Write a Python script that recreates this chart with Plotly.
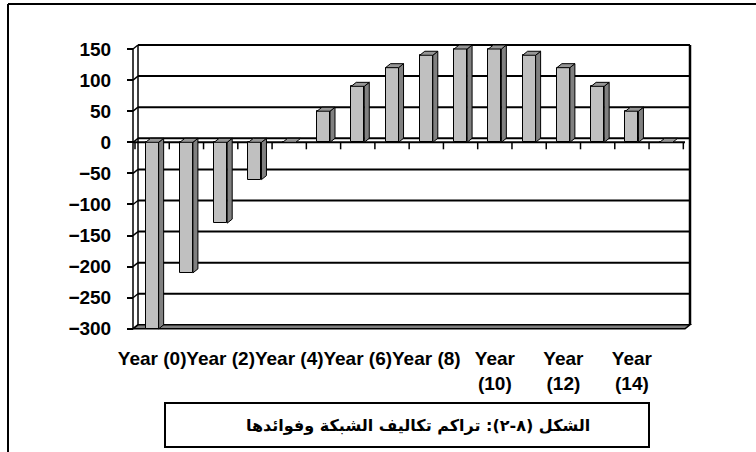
import plotly.graph_objects as go

# ---- data -------------------------------------------------------------
years = list(range(16))
cumulative = [-300, -210, -130, -60, 0, 50, 90, 120, 140, 150,
              150, 140, 120, 90, 50, 0]
tick_years = [0, 2, 4, 6, 8, 10, 12, 14]
tick_text = ["Year (0)", "Year (2)", "Year (4)", "Year (6)", "Year (8)",
             "Year<br>(10)", "Year<br>(12)", "Year<br>(14)"]
value_ticks = [-300, -250, -200, -150, -100, -50, 0, 50, 100, 150]
caption = "الشكل (٨-٢): تراكم تكاليف الشبكة وفوائدها"

# ---- geometry (pixels of the 756x452 page) ----------------------------
W, H = 756, 452
PLOT_L, PLOT_R, PLOT_T, PLOT_B = 120, 700, 35, 340
SLOT = 34.27            # px per category
CAT_ORIGIN = 135        # px of category -0.5 on the front plane
ZERO_PX = 142.3         # px of value 0 on the front plane
PX_PER_UNIT = 0.6218    # px per value unit

x_range = [(PLOT_L - CAT_ORIGIN) / SLOT - 0.5, (PLOT_R - CAT_ORIGIN) / SLOT - 0.5]
y_range = [-(PLOT_B - ZERO_PX) / PX_PER_UNIT, (ZERO_PX - PLOT_T) / PX_PER_UNIT]

DX = 5 / SLOT               # depth offset, category units
DY = 4 / PX_PER_UNIT        # depth offset, value units
FRONT_L = (133 - CAT_ORIGIN) / SLOT - 0.5
FRONT_R = (685 - CAT_ORIGIN) / SLOT - 0.5
BAR_W = 0.38
VMIN, VMAX = min(value_ticks), max(value_ticks)


def px_x(px):
    return (px - PLOT_L) / (PLOT_R - PLOT_L)


def px_y(px):
    return (PLOT_B - px) / (PLOT_B - PLOT_T)


shapes = []


def seg(x0, y0, x1, y1, width=2):
    shapes.append(dict(type="line", xref="x", yref="y", x0=x0, y0=y0, x1=x1, y1=y1,
                       line=dict(color="black", width=width), layer="below"))


# back wall gridlines and side-wall slants
for v in value_ticks:
    if v != VMIN:
        seg(FRONT_L + DX, v + DY, FRONT_R + DX, v + DY)
    seg(FRONT_L, v, FRONT_L + DX, v + DY, 1.5)
# left wall edges and right edge of back wall
seg(FRONT_L, VMIN, FRONT_L, VMAX, 1.5)
seg(FRONT_L + DX, VMIN + DY, FRONT_L + DX, VMAX + DY, 1.5)
seg(FRONT_R + DX, VMIN + DY, FRONT_R + DX, VMAX + DY, 2.5)
# floor slab
shapes.append(dict(
    type="path", xref="x", yref="y", layer="below",
    path=(f"M {FRONT_L},{VMIN} L {FRONT_R},{VMIN} L {FRONT_R + DX},{VMIN + DY} "
          f"L {FRONT_L + DX},{VMIN + DY} Z"),
    fillcolor="#808080", line=dict(color="black", width=1.5)))
# category axis on the zero line with its tick marks
seg(FRONT_L, 0, FRONT_R, 0, 2)
tick_drop = 7 / PX_PER_UNIT
for k in range(len(years) + 1):
    seg(k - 0.5, 0, k - 0.5, -tick_drop, 1.5)

# outer frame of the figure
shapes.append(dict(type="line", xref="paper", yref="paper",
                   x0=px_x(8), y0=px_y(4), x1=px_x(W + 5), y1=px_y(4),
                   line=dict(color="black", width=2)))
shapes.append(dict(type="line", xref="paper", yref="paper",
                   x0=px_x(8), y0=px_y(4), x1=px_x(8), y1=px_y(H + 5),
                   line=dict(color="black", width=2)))
# caption box
shapes.append(dict(type="rect", xref="paper", yref="paper",
                   x0=px_x(165), y0=px_y(447), x1=px_x(649), y1=px_y(403),
                   line=dict(color="black", width=2), fillcolor="white"))

# ---- 3-D faces of the columns -----------------------------------------
side_x, side_y, top_x, top_y = [], [], [], []
for x, v in zip(years, cumulative):
    lo, hi = min(v, 0), max(v, 0)
    l, r = x - BAR_W / 2, x + BAR_W / 2
    if hi > lo:
        side_x += [r, r, r + DX, r + DX, r, None]
        side_y += [lo, hi, hi + DY, lo + DY, lo, None]
    top_x += [l, r, r + DX, l + DX, l, None]
    top_y += [hi, hi, hi + DY, hi + DY, hi, None]

fig = go.Figure()
fig.add_trace(go.Bar(
    x=years, y=cumulative, width=BAR_W,
    marker=dict(color="#C0C0C0", line=dict(color="black", width=1)),
    hoverinfo="skip", showlegend=False))
fig.add_trace(go.Scatter(
    x=side_x, y=side_y, mode="lines", fill="toself", fillcolor="#808080",
    line=dict(color="black", width=1), hoverinfo="skip", showlegend=False))
fig.add_trace(go.Scatter(
    x=top_x, y=top_y, mode="lines", fill="toself", fillcolor="#969696",
    line=dict(color="black", width=1), hoverinfo="skip", showlegend=False))

tick_font = dict(family="Liberation Sans, Arial, sans-serif", size=19,
                 color="black", weight="bold")

fig.update_layout(
    width=W, height=H,
    margin=dict(l=PLOT_L, r=W - PLOT_R, t=PLOT_T, b=H - PLOT_B, pad=0),
    paper_bgcolor="white", plot_bgcolor="white",
    showlegend=False, bargap=0,
    xaxis=dict(range=x_range, tickmode="array", tickvals=tick_years,
               ticktext=tick_text, showgrid=False, zeroline=False,
               showline=False, ticks="", tickfont=tick_font, tickangle=0,
               ticklabelstandoff=5, fixedrange=True),
    yaxis=dict(range=y_range, tickmode="array", tickvals=value_ticks,
               showgrid=False, zeroline=False, showline=False,
               anchor="free", position=px_x(133),
               ticks="outside", ticklen=6, tickwidth=1.5, tickcolor="black",
               tickfont=tick_font, ticklabelstandoff=12, fixedrange=True),
    shapes=shapes,
    annotations=[dict(
        text=caption, xref="paper", yref="paper",
        x=px_x(418), y=px_y(425), xanchor="center", yanchor="middle",
        showarrow=False,
        font=dict(family="DejaVu Sans, Noto Sans, sans-serif", size=16,
                  color="black", weight="bold"))],
)

fig.write_html("out.html")
